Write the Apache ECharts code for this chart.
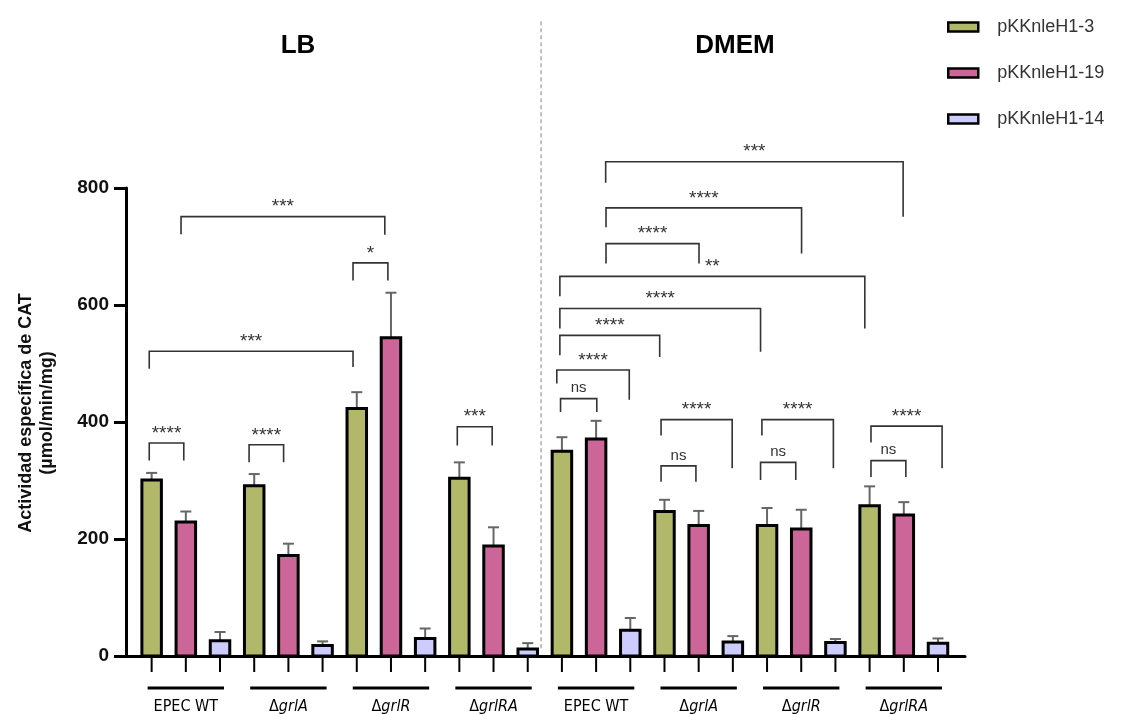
<!DOCTYPE html>
<html><head><meta charset="utf-8">
<script src="https://cdn.jsdelivr.net/npm/echarts@6/dist/echarts.min.js"></script>
<style>html,body{margin:0;padding:0;background:#fff}#c{width:1135px;height:714px}</style>
</head><body><div id="c"></div>
<script>
// ---- data ----
const groups = ['EPEC WT', 'ΔgrlA', 'ΔgrlR', 'ΔgrlRA', 'EPEC WT', 'ΔgrlA', 'ΔgrlR', 'ΔgrlRA'];
const seriesNames = ['pKKnleH1-3', 'pKKnleH1-19', 'pKKnleH1-14'];
const mean3  = [301, 291, 423, 304, 350, 247, 223, 257];
const err3   = [12, 20, 28, 27, 24, 20, 30, 33];
const mean19 = [229, 172, 544, 188, 371, 223, 217, 241];
const err19  = [18, 20, 77, 32, 31, 25, 33, 22];
const mean14 = [26, 18, 30, 12, 44, 24, 23, 22];
const err14  = [15, 7, 17, 10, 21, 10, 6, 8];
const yTicks = [0, 200, 400, 600, 800];
const panelTitles = ['LB', 'DMEM'];
const dividerAt = 11.39;
// significance brackets (x in bar-index units, y in data units)
const brX1   = [-0.07, 2.85, 5.89, 8.94, -0.07, 0.86, 13.28, 13.29, 13.29, 11.94, 11.94, 11.94, 11.85, 11.96, 14.90, 14.90, 17.85, 17.81, 21.04, 21.04];
const brX2   = [0.94, 3.86, 6.91, 9.96, 5.89, 6.82, 21.98, 19.01, 16.01, 20.86, 17.81, 14.86, 13.97, 13.02, 16.98, 15.92, 19.94, 18.84, 23.12, 22.06];
const brTop  = [364, 361, 672, 392, 521, 751, 845, 766, 705, 649, 594, 548, 489, 440, 404, 325, 404, 331, 393, 334];
const brLegL = [334, 331, 642, 360, 491, 721, 809, 733, 671, 615, 560, 514, 466, 417, 377, 298, 377, 301, 365, 306];
const brLegR = [334, 331, 642, 360, 494, 720, 751, 688, 671, 560, 520, 511, 438, 417, 321, 298, 321, 301, 321, 306];
const brText = ['****', '****', '*', '***', '***', '***', '***', '****', '****', '**', '****', '****', '****', 'ns', '****', 'ns', '****', 'ns', '****', 'ns'];

const means = [mean3, mean19, mean14];
const errs = [err3, err19, err14];
const colors = ['#B1B86A', '#CC6698', '#CCCCFF'];
const FONT = '"Liberation Sans", Arial, sans-serif';
const NARROW = '"Liberation Sans Narrow", "Arial Narrow", "DejaVu Sans Condensed", ' + FONT;

const chart = echarts.init(document.getElementById('c'));

const barSeries = seriesNames.map((name, s) => ({
  name: name,
  type: 'custom',
  clip: false,
  itemStyle: { color: colors[s], borderColor: '#000', borderWidth: 2.5 },
  data: groups.map((g, i) => [i * 3 + s, means[s][i], errs[s][i]]),
  renderItem: function (params, api) {
    const x = api.value(0), v = api.value(1), e = api.value(2);
    const p0 = api.coord([x, 0]), p1 = api.coord([x, v]), p2 = api.coord([x, v + e]);
    const w = 19.5;
    return { type: 'group', children: [
      { type: 'line', shape: { x1: p1[0], y1: p1[1], x2: p2[0], y2: p2[1] }, style: { stroke: '#666', lineWidth: 2 } },
      { type: 'line', shape: { x1: p2[0] - 5.5, y1: p2[1], x2: p2[0] + 5.5, y2: p2[1] }, style: { stroke: '#666', lineWidth: 2 } },
      { type: 'rect', shape: { x: p0[0] - w / 2, y: p1[1], width: w, height: p0[1] - p1[1] }, style: { fill: colors[s], stroke: '#000', lineWidth: 3 } }
    ]};
  }
}));

const bracketSeries = {
  type: 'custom', clip: false, silent: true,
  data: brX1.map((x, i) => [x, brTop[i], brX2[i], brLegL[i], brLegR[i]]),
  renderItem: function (params, api) {
    const i = params.dataIndex;
    const a = api.coord([api.value(0), api.value(1)]);
    const b = api.coord([api.value(2), api.value(1)]);
    const la = api.coord([api.value(0), api.value(3)]);
    const lb = api.coord([api.value(2), api.value(4)]);
    const isNs = brText[i] === 'ns';
    return { type: 'group', children: [
      { type: 'polyline', shape: { points: [[la[0], la[1]], [a[0], a[1]], [b[0], b[1]], [lb[0], lb[1]]] }, style: { stroke: '#333', lineWidth: 1.6, fill: null } },
      { type: 'text', x: (a[0] + b[0]) / 2, y: a[1] - (isNs ? 3 : 0), style: { text: brText[i], textAlign: 'center', textVerticalAlign: 'bottom', fill: '#333', font: (isNs ? '15px ' : '19px ') + FONT } }
    ]};
  }
};

const axisDecor = {
  type: 'custom', clip: false, silent: true,
  data: groups.map((g, i) => [i * 3 + 1, 0]),
  renderItem: function (params, api) {
    const i = params.dataIndex;
    const c = api.coord([api.value(0), 0]);
    const l = api.coord([api.value(0) - 1, 0]);
    const r = api.coord([api.value(0) + 1, 0]);
    const children = [];
    [l, c, r].forEach(p => children.push({ type: 'line', shape: { x1: p[0], y1: p[1], x2: p[0], y2: p[1] + 16 }, style: { stroke: '#000', lineWidth: 2 } }));
    const half = (r[0] - l[0]) / 2 + 4;
    children.push({ type: 'line', shape: { x1: c[0] - half, y1: c[1] + 32, x2: c[0] + half, y2: c[1] + 32 }, style: { stroke: '#000', lineWidth: 3 } });
    const name = groups[i];
    let txt;
    if (name.charAt(0) === 'Δ') txt = '{n|Δ}{i|' + name.slice(1) + '}';
    else txt = '{n|' + name + '}';
    children.push({ type: 'text', x: c[0], y: c[1] + 51, style: { text: txt, textAlign: 'center', textVerticalAlign: 'middle',
      rich: { n: { fontSize: 16, fontFamily: NARROW, fill: '#000', color: '#000' },
              i: { fontSize: 16, fontStyle: 'italic', fontFamily: NARROW, fill: '#000', color: '#000' } } } });
    return { type: 'group', children: children };
  }
};

const dividerSeries = {
  type: 'custom', clip: false, silent: true,
  data: [[dividerAt, 1085]],
  renderItem: function (params, api) {
    const t = api.coord([api.value(0), api.value(1)]);
    const b = api.coord([api.value(0), 10]);
    return { type: 'line', shape: { x1: t[0], y1: t[1], x2: b[0], y2: b[1] }, style: { stroke: '#999', lineWidth: 1.2, lineDash: [4, 3] } };
  }
};

chart.setOption({
  animation: false,
  backgroundColor: '#fff',
  grid: { left: 126, right: 170, top: 188, bottom: 58 },
  legend: {
    orient: 'vertical', left: 942, top: 13, itemWidth: 30, itemHeight: 9, itemGap: 28, icon: 'rect',
    textStyle: { fontSize: 18, color: '#333', fontFamily: FONT, padding: [0, 0, 0, 14] },
    data: seriesNames.map((n, s) => ({ name: n, itemStyle: { color: colors[s], borderColor: '#000', borderWidth: 2.5 } }))
  },
  graphic: [
    { type: 'text', x: 298, y: 46, style: { text: panelTitles[0], font: 'bold 26px ' + FONT, fill: '#000', textAlign: 'center', textVerticalAlign: 'middle' } },
    { type: 'text', x: 735, y: 46, style: { text: panelTitles[1], font: 'bold 26px ' + FONT, fill: '#000', textAlign: 'center', textVerticalAlign: 'middle' } }
  ],
  xAxis: {
    type: 'value', min: -0.75, max: 23.79,
    axisLine: { show: true, onZero: false, lineStyle: { color: '#000', width: 3 } },
    axisTick: { show: false }, axisLabel: { show: false }, splitLine: { show: false }
  },
  yAxis: {
    type: 'value', min: yTicks[0], max: yTicks[yTicks.length - 1], interval: 200,
    name: 'Actividad específica de CAT\n(µmol/min/mg)', nameLocation: 'middle', nameGap: 68,
    nameTextStyle: { fontSize: 18, fontWeight: 'bold', color: '#111', fontFamily: FONT, lineHeight: 21, padding: [0, 0, 0, 18] },
    axisLine: { show: true, onZero: false, lineStyle: { color: '#000', width: 3 } },
    axisTick: { show: true, length: 12, lineStyle: { color: '#000', width: 3 } },
    axisLabel: { fontSize: 19, fontWeight: 'bold', color: '#111', fontFamily: FONT, margin: 17 },
    splitLine: { show: false }
  },
  series: [dividerSeries].concat(barSeries, [bracketSeries, axisDecor])
});
</script>
</body></html>
